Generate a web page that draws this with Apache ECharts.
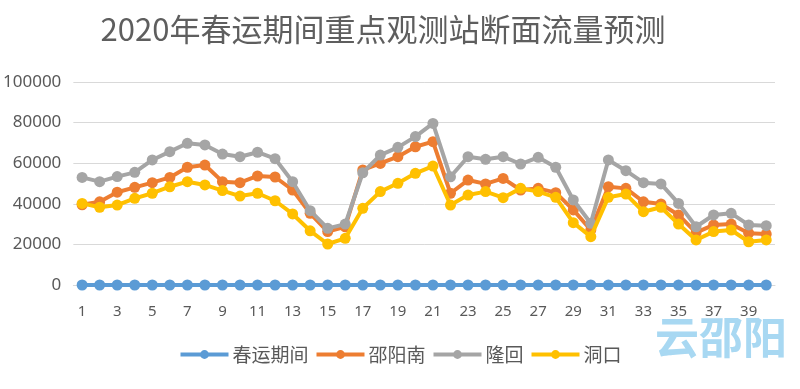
<!DOCTYPE html>
<html>
<head>
<meta charset="utf-8">
<script src="https://cdn.jsdelivr.net/npm/echarts@6/dist/echarts.min.js"></script>
<style>html,body{margin:0;padding:0;background:#fff;}#c{width:800px;height:389px;}</style>
</head>
<body>
<div id="c"></div>
<script>
var categories = [];
for (var i = 1; i <= 40; i++) categories.push(String(i));
var seriesNames = ['春运期间', '邵阳南', '隆回', '洞口'];
var chunyun = [0,0,0,0,0,0,0,0,0,0,0,0,0,0,0,0,0,0,0,0,0,0,0,0,0,0,0,0,0,0,0,0,0,0,0,0,0,0,0,0];
var shaoyangnan = [39500,41000,45700,48100,50400,53000,58000,59100,50900,50400,53700,53200,46800,35300,26300,28700,56700,59900,63200,68100,70600,45200,51700,49800,52500,46800,47600,45500,37000,27100,48400,47600,41000,39900,34500,25800,29600,30000,25500,25100];
var longhui = [53000,50900,53400,55500,61600,65700,69800,69000,64500,63200,65400,62200,50900,36600,27900,30000,55300,64000,67800,73100,79600,53300,63200,61900,63200,59600,62900,58000,41900,30400,61600,56300,50400,49800,40200,28700,34500,35300,29600,29200];
var dongkou = [40200,38300,39400,42700,45200,48400,50900,49300,46500,43800,45200,41500,35000,26700,20200,23000,37800,46000,50100,55000,58600,39400,44300,46000,43000,47600,46000,43200,30700,23800,43200,44800,36100,38300,30000,22200,26300,27100,21300,22200];
var yTicks = [0, 20000, 40000, 60000, 80000, 100000];
var colors = ['#5B9BD5', '#ED7D31', '#A5A5A5', '#FFC000'];
var dataSets = [chunyun, shaoyangnan, longhui, dongkou];

var chart = echarts.init(document.getElementById('c'));
var series = seriesNames.map(function (n, k) {
  return {
    name: n, type: 'line', data: dataSets[k],
    symbol: 'circle', symbolSize: 11,
    lineStyle: { width: 4, color: colors[k] },
    itemStyle: { color: colors[k] },
    z: k === 0 ? 5 : 2 + k
  };
});
chart.setOption({
  animation: false,
  color: colors,
  title: {
    text: '2020年春运期间重点观测站断面流量预测',
    left: 383, top: 14, textAlign: 'center', padding: 0,
    textStyle: { fontSize: 31, fontWeight: 'normal', color: '#5e5e5e', fontFamily: 'Noto Sans CJK SC' }
  },
  legend: {
    top: 345, left: 'center', itemWidth: 48, itemHeight: 11, itemGap: 6, padding: 0,
    lineStyle: { width: 4 },
    textStyle: { fontSize: 19, color: '#595959', fontFamily: 'Noto Sans CJK SC', padding: [0, 0, 0, -1] },
    data: seriesNames
  },
  grid: { left: 70, right: 25, top: 82, bottom: 104, containLabel: false },
  xAxis: {
    type: 'category', data: categories, boundaryGap: true,
    axisLine: { show: true, lineStyle: { color: '#d9d9d9' } },
    axisTick: { show: false },
    axisLabel: { interval: 1, fontSize: 15, color: '#595959', margin: 19, fontFamily: 'Noto Sans' }
  },
  yAxis: {
    type: 'value', min: 0, max: 100000, interval: 20000,
    axisLine: { show: false }, axisTick: { show: false },
    splitLine: { lineStyle: { color: '#d9d9d9', width: 1 } },
    axisLabel: { fontSize: 17, color: '#595959', margin: 12, fontFamily: 'Noto Sans',
      formatter: function (v) { return yTicks.indexOf(v) >= 0 ? String(v) : ''; } }
  },
  graphic: [{
    type: 'text', left: 655, top: 315,
    style: { text: '云邵阳', fontSize: 44, fontWeight: 'bold', fill: '#a8d8f2', fontFamily: 'Noto Sans CJK SC' }
  }],
  series: series
});
</script>
</body>
</html>
